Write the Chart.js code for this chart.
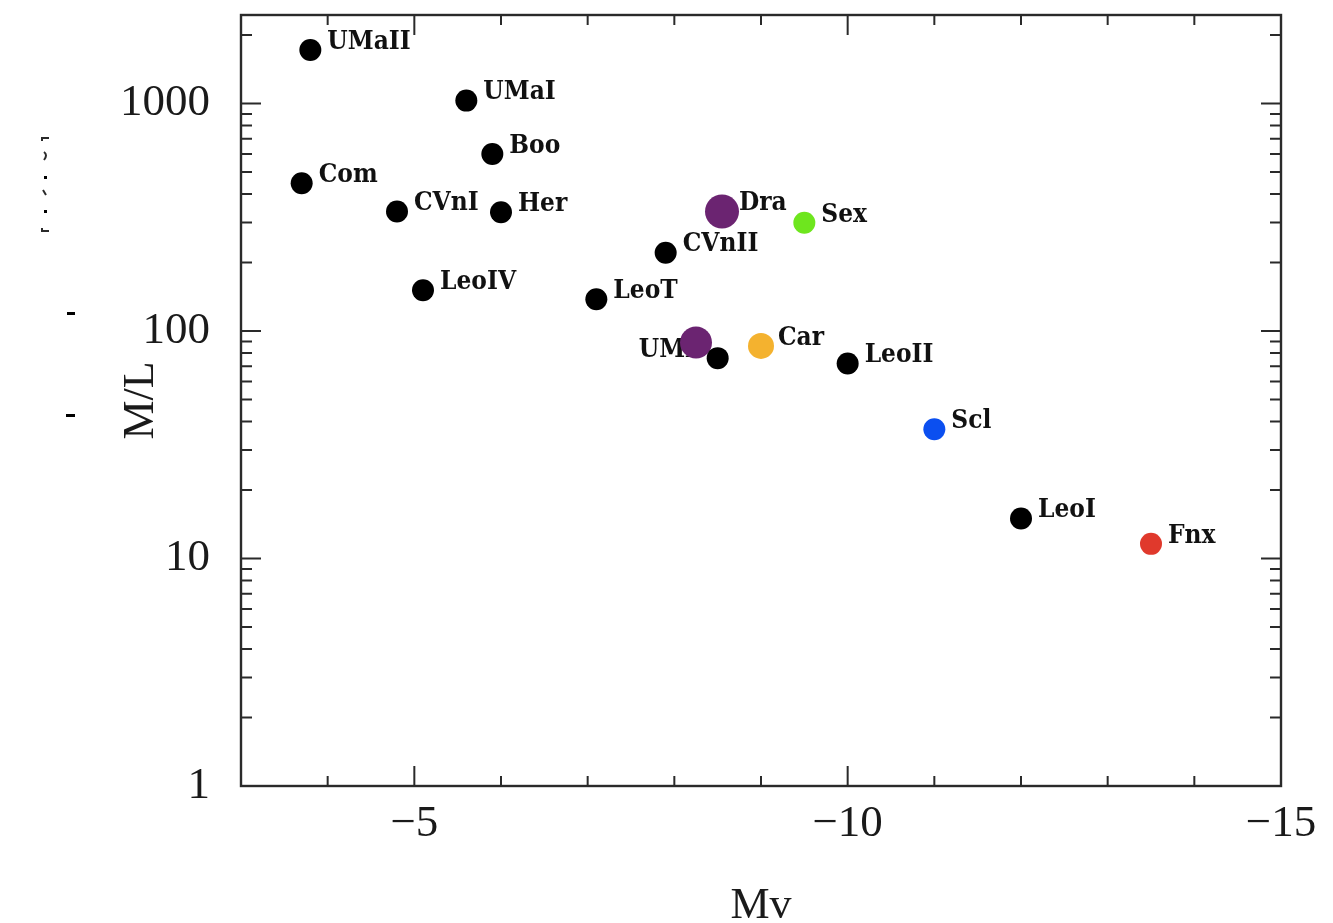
<!DOCTYPE html>
<html>
<head>
<meta charset="utf-8">
<script src="https://cdn.jsdelivr.net/npm/chart.js@4.4.1/dist/chart.umd.min.js"></script>
<style>
  html, body { margin: 0; padding: 0; background: #fff; }
  canvas { display: block; }
</style>
</head>
<body>
<canvas id="c" width="1333" height="923"></canvas>
<script>
// Dwarf spheroidal galaxies: absolute V magnitude vs. mass-to-light ratio
const galaxies    = ['UMaII', 'UMaI', 'Boo', 'Com', 'CVnI', 'Her', 'LeoIV', 'LeoT', 'CVnII', 'Dra', 'Sex', 'UMi', '', 'Car', 'LeoII', 'Scl', 'LeoI', 'Fnx'];
const absMag      = [-3.8, -5.6, -5.9, -3.7, -4.8, -6.0, -5.1, -7.1, -7.9, -8.55, -9.5, -8.25, -8.5, -9.0, -10.0, -11.0, -12.0, -13.5];
const massToLight = [1720, 1030, 600, 446, 335, 333, 151, 138, 221, 335, 299, 89, 76, 86, 72, 37, 15, 11.6];

const xTickValues = [-5, -10, -15];
const yTickValues = [1, 10, 100, 1000];

// Highlighted classical dwarfs get their own colour and size
const markerStyle = {
  Dra: { color: '#6b2471', radius: 17 },
  UMi: { color: '#6b2471', radius: 16 },
  Sex: { color: '#6ee61e', radius: 11 },
  Car: { color: '#f4b22f', radius: 13 },
  Scl: { color: '#0b4ff0', radius: 11 },
  Fnx: { color: '#e0392c', radius: 11 }
};
const defaultMarker = { color: '#000000', radius: 11 };
const styleOf = name => markerStyle[name] || defaultMarker;

const serif = '"Liberation Serif", "DejaVu Serif", serif';
const labelFont = 'bold 26px "DejaVu Serif Condensed", "DejaVu Serif", serif';

// Frame, inward-facing ticks on all four sides, point labels and axis titles
const framePlugin = {
  id: 'frame',
  beforeDatasetsDraw(chart) {
    const ctx = chart.ctx;
    const meta = chart.getDatasetMeta(0);
    ctx.save();
    ctx.font = labelFont;
    ctx.fillStyle = '#111';
    ctx.textBaseline = 'middle';
    galaxies.forEach((name, i) => {
      if (!name) return;
      const pt = meta.data[i];
      if (name === 'UMi') {
        ctx.textAlign = 'right';
        ctx.fillText(name, pt.x - 2, pt.y + 8);
      } else {
        ctx.textAlign = 'left';
        ctx.fillText(name, pt.x + 17, pt.y - 8);
      }
    });
    ctx.restore();
  },
  afterDraw(chart) {
    const ctx = chart.ctx;
    const { left, right, top, bottom } = chart.chartArea;
    const xs = chart.scales.x, ys = chart.scales.y;
    ctx.save();
    ctx.strokeStyle = '#2a2a2a';
    ctx.lineWidth = 2.4;
    ctx.strokeRect(left, top, right - left, bottom - top);

    ctx.lineWidth = 2;
    ctx.beginPath();
    // x ticks: every magnitude, longer at multiples of 5
    for (let v = Math.ceil(xs.max); v >= xs.min; v--) {
      const px = xs.getPixelForValue(v);
      const len = v % 5 === 0 ? 20 : 10;
      ctx.moveTo(px, bottom); ctx.lineTo(px, bottom - len);
      ctx.moveTo(px, top); ctx.lineTo(px, top + len);
    }
    // y ticks: 1..9 per decade, longer at powers of ten
    for (let d = 1; d <= ys.max; d *= 10) {
      for (let m = 1; m <= 9; m++) {
        const v = m * d;
        if (v < ys.min || v > ys.max) continue;
        const py = ys.getPixelForValue(v);
        const len = m === 1 ? 20 : 11;
        ctx.moveTo(left, py); ctx.lineTo(left + len, py);
        ctx.moveTo(right, py); ctx.lineTo(right - len, py);
      }
    }
    ctx.stroke();

    // axis titles
    ctx.fillStyle = '#1a1a1a';
    ctx.font = '44px ' + serif;
    ctx.textAlign = 'center';
    ctx.textBaseline = 'middle';
    ctx.fillText('Mv', (left + right) / 2, bottom + 120);
    ctx.save();
    ctx.translate(141, (top + bottom) / 2);
    ctx.rotate(-Math.PI / 2);
    ctx.fillText('M/L', 0, 0);
    ctx.restore();

    // small stray marks at the left margin
    ctx.fillStyle = '#000';
    ctx.fillRect(67, 312, 8, 3);
    ctx.fillRect(66, 414, 9, 3);
    ctx.lineWidth = 2;
    ctx.beginPath();
    ctx.moveTo(49, 138); ctx.lineTo(42, 138); ctx.lineTo(42, 141);
    ctx.moveTo(42, 228); ctx.lineTo(42, 231); ctx.lineTo(49, 231);
    ctx.moveTo(44, 152); ctx.quadraticCurveTo(48, 155, 44, 160);
    ctx.moveTo(43, 190); ctx.lineTo(46, 195);
    ctx.stroke();
    ctx.fillRect(44, 176, 3, 3);
    ctx.fillRect(44, 210, 3, 3);
    ctx.restore();
  }
};

new Chart(document.getElementById('c'), {
  type: 'scatter',
  data: {
    datasets: [{
      data: absMag.map((x, i) => ({ x: x, y: massToLight[i] })),
      backgroundColor: galaxies.map(n => styleOf(n).color),
      borderColor: galaxies.map(n => styleOf(n).color),
      borderWidth: 0,
      pointRadius: galaxies.map(n => styleOf(n).radius),
      pointHoverRadius: galaxies.map(n => styleOf(n).radius)
    }]
  },
  options: {
    responsive: false,
    animation: false,
    devicePixelRatio: 1,
    layout: { padding: { top: 15, right: 52, left: 0, bottom: 0 }, autoPadding: false },
    plugins: { legend: { display: false }, tooltip: { enabled: false } },
    scales: {
      x: {
        type: 'linear',
        reverse: true,
        min: -15,
        max: -3,
        grid: { display: false, drawTicks: false },
        border: { display: false },
        ticks: {
          stepSize: 1,
          autoSkip: false,
          maxRotation: 0,
          padding: 11,
          color: '#1a1a1a',
          font: { family: serif, size: 45 },
          callback: v => xTickValues.includes(v) ? '\u2212' + Math.abs(v) : ''
        },
        afterFit: s => { s.height = 137; s.paddingLeft = 0; s.paddingRight = 0; }
      },
      y: {
        type: 'logarithmic',
        min: 1,
        max: 2450,
        grid: { display: false, drawTicks: false },
        border: { display: false },
        ticks: {
          autoSkip: false,
          padding: 31,
          color: '#1a1a1a',
          font: { family: serif, size: 45 },
          callback: v => yTickValues.includes(v) ? String(v) : ''
        },
        afterFit: s => { s.width = 241; s.paddingTop = 0; s.paddingBottom = 0; }
      }
    }
  },
  plugins: [framePlugin]
});
</script>
</body>
</html>
